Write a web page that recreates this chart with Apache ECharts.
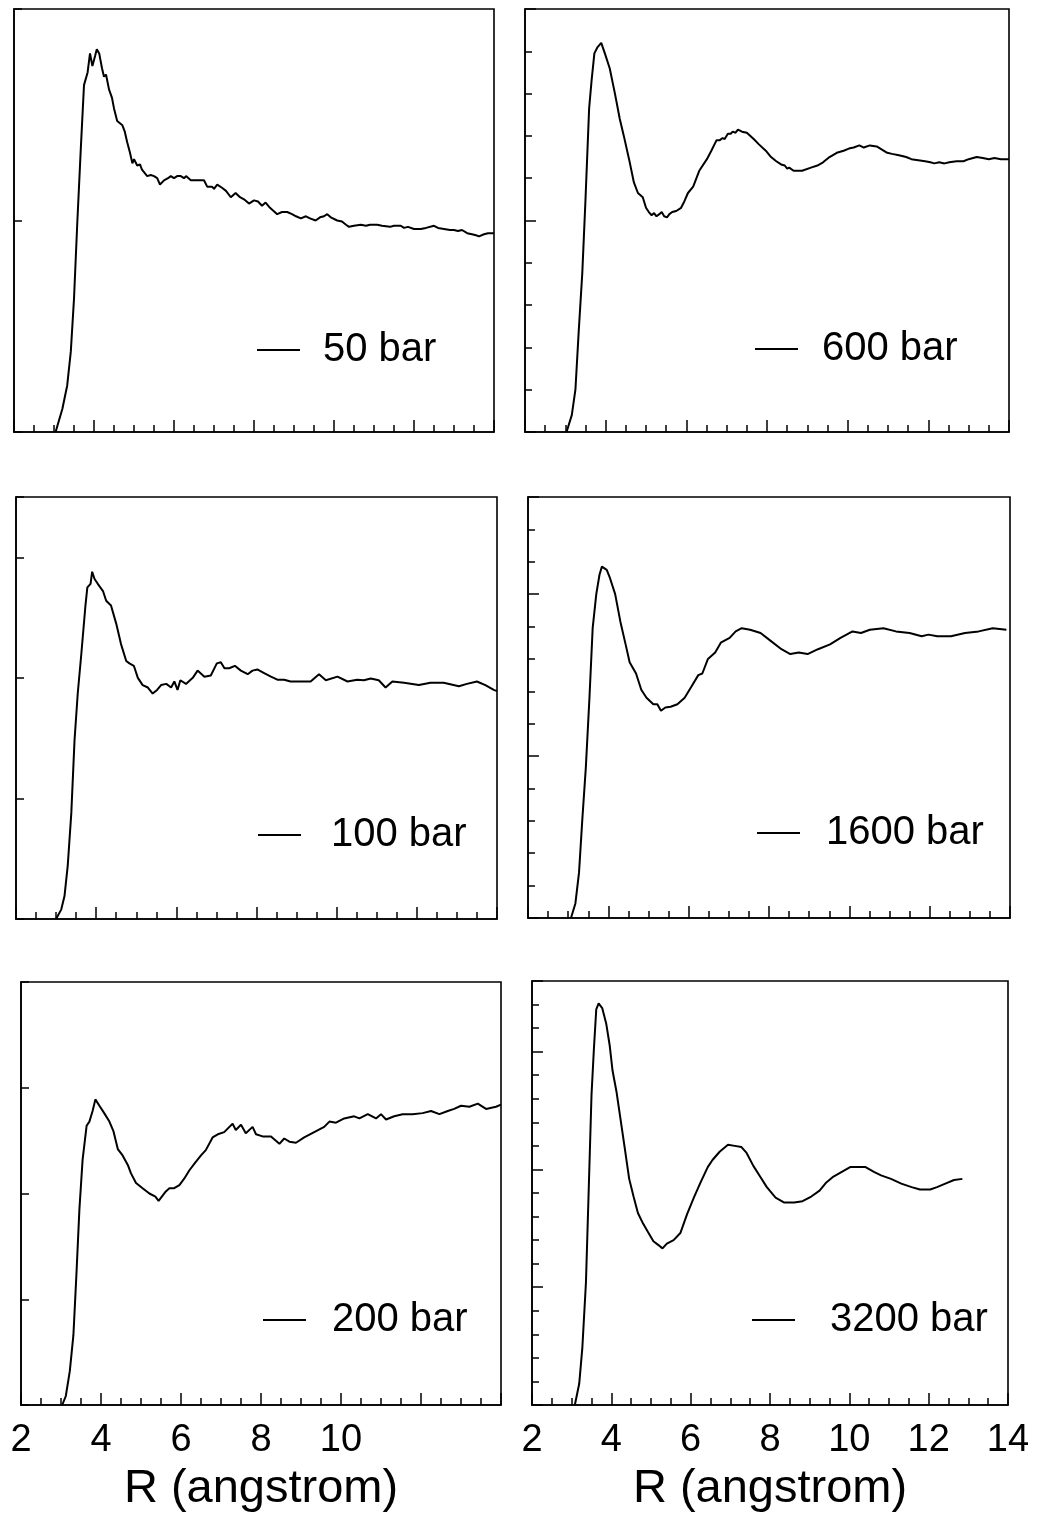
<!DOCTYPE html>
<html><head><meta charset="utf-8">
<script src="https://cdn.jsdelivr.net/npm/echarts@6/dist/echarts.min.js"></script>
<style>html,body{margin:0;padding:0;background:#fff}#c{width:1051px;height:1520px}</style>
</head><body><div id="c"></div>
<script>
// R (angstrom) vs value
const bar50 = [[3.04,0],[3.21,0.11],[3.33,0.22],[3.42,0.38],[3.5,0.63],[3.58,0.98],[3.67,1.34],[3.75,1.64],[3.84,1.70],[3.9,1.79],[3.96,1.73],[4.03,1.78],[4.07,1.81],[4.13,1.79],[4.2,1.72],[4.25,1.68],[4.3,1.69],[4.375,1.62],[4.45,1.58],[4.5,1.53],[4.58,1.47],[4.71,1.45],[4.77,1.42],[4.83,1.37],[4.9,1.32],[4.96,1.27],[5.0,1.29],[5.08,1.26],[5.15,1.265],[5.2,1.24],[5.33,1.21],[5.42,1.215],[5.5,1.21],[5.58,1.2],[5.65,1.17],[5.75,1.19],[5.85,1.2],[5.92,1.21],[6.0,1.2],[6.08,1.21],[6.17,1.21],[6.25,1.2],[6.3,1.21],[6.42,1.19],[6.55,1.19],[6.75,1.19],[6.83,1.16],[6.95,1.16],[7.0,1.15],[7.08,1.17],[7.2,1.155],[7.3,1.14],[7.42,1.11],[7.54,1.13],[7.65,1.11],[7.75,1.1],[7.875,1.08],[8.0,1.095],[8.1,1.09],[8.2,1.07],[8.29,1.085],[8.4,1.06],[8.58,1.03],[8.7,1.04],[8.83,1.04],[8.95,1.03],[9.05,1.02],[9.17,1.01],[9.3,1.02],[9.4,1.01],[9.54,1.0],[9.65,1.015],[9.75,1.02],[9.83,1.03],[9.92,1.015],[10.08,1.0],[10.2,0.995],[10.3,0.98],[10.375,0.97],[10.5,0.975],[10.67,0.98],[10.8,0.975],[10.9,0.98],[11.08,0.98],[11.2,0.975],[11.4,0.97],[11.5,0.975],[11.67,0.975],[11.75,0.965],[11.85,0.97],[12.0,0.96],[12.17,0.96],[12.3,0.965],[12.5,0.975],[12.6,0.965],[12.75,0.96],[12.9,0.955],[13.0,0.955],[13.1,0.95],[13.2,0.955],[13.33,0.94],[13.45,0.935],[13.55,0.93],[13.625,0.925],[13.75,0.935],[13.85,0.94],[14.0,0.94]];

const bar600 = [[3.03,0],[3.16,0.08],[3.25,0.2],[3.33,0.47],[3.42,0.75],[3.5,1.1],[3.59,1.53],[3.65,1.66],[3.72,1.79],[3.8,1.82],[3.89,1.84],[3.98,1.79],[4.1,1.72],[4.23,1.6],[4.35,1.48],[4.45,1.4],[4.58,1.29],[4.7,1.18],[4.8,1.13],[4.92,1.11],[5.0,1.06],[5.07,1.04],[5.14,1.025],[5.2,1.035],[5.26,1.02],[5.33,1.03],[5.39,1.04],[5.45,1.02],[5.52,1.015],[5.58,1.03],[5.65,1.04],[5.75,1.045],[5.87,1.06],[5.95,1.09],[6.04,1.13],[6.17,1.16],[6.32,1.235],[6.51,1.29],[6.62,1.33],[6.75,1.38],[6.83,1.38],[6.9,1.39],[6.95,1.385],[7.03,1.41],[7.1,1.41],[7.15,1.42],[7.22,1.415],[7.28,1.43],[7.38,1.42],[7.5,1.415],[7.67,1.385],[7.8,1.36],[7.97,1.33],[8.1,1.3],[8.23,1.28],[8.35,1.265],[8.44,1.26],[8.5,1.245],[8.55,1.25],[8.66,1.235],[8.87,1.235],[9.09,1.25],[9.25,1.26],[9.39,1.275],[9.55,1.3],[9.73,1.32],[9.9,1.33],[10.03,1.34],[10.15,1.345],[10.29,1.355],[10.4,1.345],[10.55,1.355],[10.72,1.35],[10.85,1.335],[10.98,1.32],[11.1,1.315],[11.24,1.31],[11.35,1.305],[11.45,1.3],[11.58,1.29],[11.75,1.285],[11.92,1.28],[12.05,1.275],[12.15,1.27],[12.27,1.275],[12.4,1.27],[12.52,1.275],[12.7,1.28],[12.87,1.28],[13.0,1.29],[13.2,1.3],[13.35,1.295],[13.5,1.29],[13.64,1.295],[13.8,1.29],[14.0,1.29]];

const bar100 = [[3.0,0],[3.13,0.08],[3.21,0.19],[3.29,0.44],[3.38,0.88],[3.46,1.48],[3.54,1.87],[3.63,2.2],[3.73,2.59],[3.78,2.75],[3.86,2.78],[3.9,2.88],[3.96,2.82],[4.04,2.78],[4.17,2.72],[4.25,2.64],[4.37,2.6],[4.5,2.45],[4.62,2.28],[4.75,2.14],[4.83,2.12],[4.94,2.1],[5.04,2.0],[5.16,1.94],[5.29,1.92],[5.41,1.87],[5.52,1.9],[5.62,1.94],[5.75,1.95],[5.87,1.92],[5.95,1.97],[6.03,1.9],[6.1,1.98],[6.24,1.95],[6.41,2.0],[6.53,2.06],[6.7,2.01],[6.86,2.02],[7.01,2.12],[7.11,2.13],[7.2,2.08],[7.32,2.08],[7.46,2.1],[7.61,2.06],[7.78,2.03],[7.9,2.06],[8.02,2.07],[8.19,2.04],[8.36,2.01],[8.52,1.985],[8.69,1.985],[8.85,1.97],[9.1,1.97],[9.35,1.97],[9.56,2.03],[9.73,1.98],[10.02,2.01],[10.27,1.97],[10.51,1.985],[10.68,1.98],[10.85,1.995],[11.05,1.98],[11.22,1.92],[11.39,1.97],[11.68,1.96],[12.05,1.94],[12.34,1.96],[12.67,1.96],[13.05,1.93],[13.25,1.95],[13.5,1.97],[13.71,1.94],[13.92,1.9],[14.0,1.89]];

const bar1600 = [[3.07,0],[3.18,0.09],[3.27,0.28],[3.35,0.6],[3.44,0.93],[3.53,1.36],[3.61,1.79],[3.7,2.0],[3.78,2.12],[3.84,2.17],[3.96,2.15],[4.04,2.1],[4.17,2.0],[4.3,1.83],[4.43,1.69],[4.53,1.58],[4.69,1.51],[4.82,1.41],[4.95,1.36],[5.12,1.32],[5.22,1.32],[5.31,1.28],[5.42,1.3],[5.55,1.305],[5.72,1.32],[5.9,1.36],[6.07,1.43],[6.24,1.5],[6.34,1.51],[6.48,1.6],[6.66,1.64],[6.8,1.7],[7.02,1.73],[7.17,1.77],[7.32,1.79],[7.53,1.78],[7.79,1.76],[8.05,1.71],[8.31,1.66],[8.53,1.63],[8.74,1.64],[8.96,1.63],[9.22,1.66],[9.52,1.69],[9.78,1.73],[10.08,1.77],[10.29,1.76],[10.51,1.78],[10.85,1.79],[11.16,1.77],[11.5,1.76],[11.8,1.74],[11.97,1.75],[12.19,1.74],[12.53,1.74],[12.88,1.76],[13.22,1.77],[13.57,1.79],[13.91,1.78]];

const bar200 = [[3.03,0],[3.12,0.085],[3.22,0.32],[3.31,0.66],[3.39,1.27],[3.46,1.85],[3.54,2.32],[3.64,2.64],[3.71,2.68],[3.79,2.78],[3.86,2.89],[3.96,2.83],[4.08,2.76],[4.21,2.68],[4.31,2.59],[4.42,2.42],[4.54,2.36],[4.67,2.27],[4.75,2.19],[4.875,2.1],[5.04,2.05],[5.21,2.0],[5.36,1.97],[5.44,1.93],[5.54,1.98],[5.62,2.02],[5.71,2.05],[5.83,2.05],[5.96,2.08],[6.08,2.14],[6.21,2.22],[6.37,2.3],[6.5,2.36],[6.62,2.41],[6.79,2.53],[6.92,2.56],[7.08,2.58],[7.21,2.63],[7.29,2.66],[7.37,2.6],[7.5,2.65],[7.62,2.57],[7.79,2.63],[7.875,2.56],[8.04,2.54],[8.25,2.54],[8.46,2.47],[8.58,2.52],[8.71,2.49],[8.875,2.48],[9.08,2.53],[9.33,2.58],[9.58,2.63],[9.71,2.68],[9.875,2.67],[10.08,2.71],[10.33,2.73],[10.46,2.71],[10.67,2.75],[10.875,2.71],[11.0,2.75],[11.125,2.7],[11.33,2.73],[11.54,2.75],[11.79,2.75],[12.04,2.76],[12.25,2.78],[12.46,2.75],[12.67,2.78],[12.83,2.8],[13.0,2.83],[13.21,2.82],[13.42,2.85],[13.625,2.8],[13.875,2.82],[14.0,2.84]];

const bar3200 = [[3.08,0],[3.19,0.18],[3.27,0.49],[3.36,1.04],[3.43,1.83],[3.5,2.63],[3.56,3.02],[3.62,3.36],[3.68,3.41],[3.77,3.37],[3.87,3.24],[3.96,3.05],[4.03,2.84],[4.13,2.66],[4.2,2.5],[4.33,2.2],[4.45,1.92],[4.56,1.77],[4.67,1.63],[4.8,1.54],[4.92,1.47],[5.06,1.39],[5.18,1.36],[5.29,1.33],[5.4,1.37],[5.57,1.4],[5.74,1.46],[5.91,1.62],[6.08,1.76],[6.25,1.89],[6.43,2.02],[6.55,2.08],[6.73,2.15],[6.94,2.21],[7.11,2.2],[7.28,2.19],[7.41,2.14],[7.58,2.03],[7.75,1.94],[7.92,1.85],[8.14,1.76],[8.35,1.72],[8.61,1.72],[8.82,1.73],[9.04,1.77],[9.25,1.82],[9.42,1.89],[9.6,1.94],[9.81,1.98],[10.02,2.02],[10.24,2.02],[10.41,2.02],[10.62,1.98],[10.8,1.95],[11.05,1.92],[11.31,1.88],[11.57,1.85],[11.78,1.83],[12.04,1.83],[12.21,1.85],[12.42,1.88],[12.64,1.91],[12.85,1.92]];

const seriesNames = ['50 bar','600 bar','100 bar','1600 bar','200 bar','3200 bar'];
const seriesData = [bar50, bar600, bar100, bar1600, bar200, bar3200];
const xTicks = [2,4,6,8,10,12,14];
const leftTickLabels = [2,4,6,8,10];
const axisTitle = 'R (angstrom)';

// layout / style per panel (not data)
const FONT = '"Liberation Sans", Arial, Helvetica, sans-serif';
const panels = [
  {grid:{left:14,top:9,width:480,height:423},  ymax:2,   fine:false, legend:{left:257,top:329,gap:18}, labels:null},
  {grid:{left:525,top:9,width:484,height:423}, ymax:2,   fine:true,  legend:{left:755,top:328,gap:19}, labels:null},
  {grid:{left:16,top:497,width:481,height:422},ymax:3.5, fine:false, legend:{left:258,top:814,gap:25}, labels:null},
  {grid:{left:528,top:497,width:482,height:421},ymax:2.6, fine:true, legend:{left:757,top:812,gap:21}, labels:null},
  {grid:{left:21,top:982,width:480,height:423},ymax:4,   fine:false, legend:{left:263,top:1299,gap:21}, labels:leftTickLabels},
  {grid:{left:532,top:981,width:476,height:424},ymax:3.6, fine:true, legend:{left:752,top:1299,gap:30}, labels:xTicks}
];

const grids=[], xAxes=[], yAxes=[], series=[], legends=[];
panels.forEach((p,i)=>{
  grids.push(Object.assign({show:true, borderColor:'#000', borderWidth:1.6, backgroundColor:'transparent'}, p.grid));
  xAxes.push({
    type:'value', gridIndex:i, position:'bottom', min:xTicks[0], max:xTicks[xTicks.length-1], interval:2,
    axisLine:{show:true, onZero:false, lineStyle:{color:'#000', width:1.6}},
    axisTick:{show:true, inside:true, length:12, lineStyle:{color:'#000', width:1.5}},
    minorTick:{show:true, splitNumber:4, length:7, lineStyle:{color:'#000', width:1.5}},
    splitLine:{show:false}, minorSplitLine:{show:false},
    axisLabel:{show: !!p.labels, margin:17, color:'#000', fontSize:38, fontFamily:FONT,
      formatter: v => (p.labels && p.labels.indexOf(v) >= 0) ? String(v) : ''},
    name: p.labels ? axisTitle : '', nameLocation:'middle', nameGap:61,
    nameTextStyle:{color:'#000', fontSize:47, fontFamily:FONT}
  });
  let yIdx = yAxes.length;
  if (p.fine) {
    yAxes.push({type:'value', gridIndex:i, position:'left', offset:0, min:0, max:p.ymax, interval:0.2,
      axisLine:{show:true, onZero:false, lineStyle:{color:'#000', width:1.6}},
      axisTick:{show:true, inside:true, length:7, lineStyle:{color:'#000', width:1.5}},
      axisLabel:{show:false}, splitLine:{show:false}});
    yAxes.push({type:'value', gridIndex:i, position:'left', offset:0, min:0, max:p.ymax, interval:1,
      axisLine:{show:false, onZero:false},
      axisTick:{show:true, inside:true, length:11, lineStyle:{color:'#000', width:1.5}},
      axisLabel:{show:false}, splitLine:{show:false}});
  } else {
    yAxes.push({type:'value', gridIndex:i, position:'left', min:0, max:p.ymax, interval:1,
      axisLine:{show:true, onZero:false, lineStyle:{color:'#000', width:1.6}},
      axisTick:{show:true, inside:true, length:8, lineStyle:{color:'#000', width:1.5}},
      axisLabel:{show:false}, splitLine:{show:false}});
  }
  series.push({type:'line', name:seriesNames[i], xAxisIndex:i, yAxisIndex:yIdx,
    data:seriesData[i], symbol:'none', showSymbol:false, smooth:false,
    lineStyle:{color:'#000', width:2}, itemStyle:{color:'#000'}});
  legends.push({data:[{name:seriesNames[i], icon:'rect'}], left:p.legend.left, top:p.legend.top, padding:0,
    itemWidth:43, itemHeight:2, selectedMode:false,
    itemStyle:{color:'#000', borderWidth:0}, lineStyle:{width:0},
    textStyle:{color:'#000', fontSize:40, fontFamily:FONT, lineHeight:42, padding:[0,0,0,p.legend.gap]}});
});

const chart = echarts.init(document.getElementById('c'), null, {renderer:'canvas'});
chart.setOption({animation:false, backgroundColor:'#fff', grid:grids, xAxis:xAxes, yAxis:yAxes, series:series, legend:legends});
</script></body></html>
